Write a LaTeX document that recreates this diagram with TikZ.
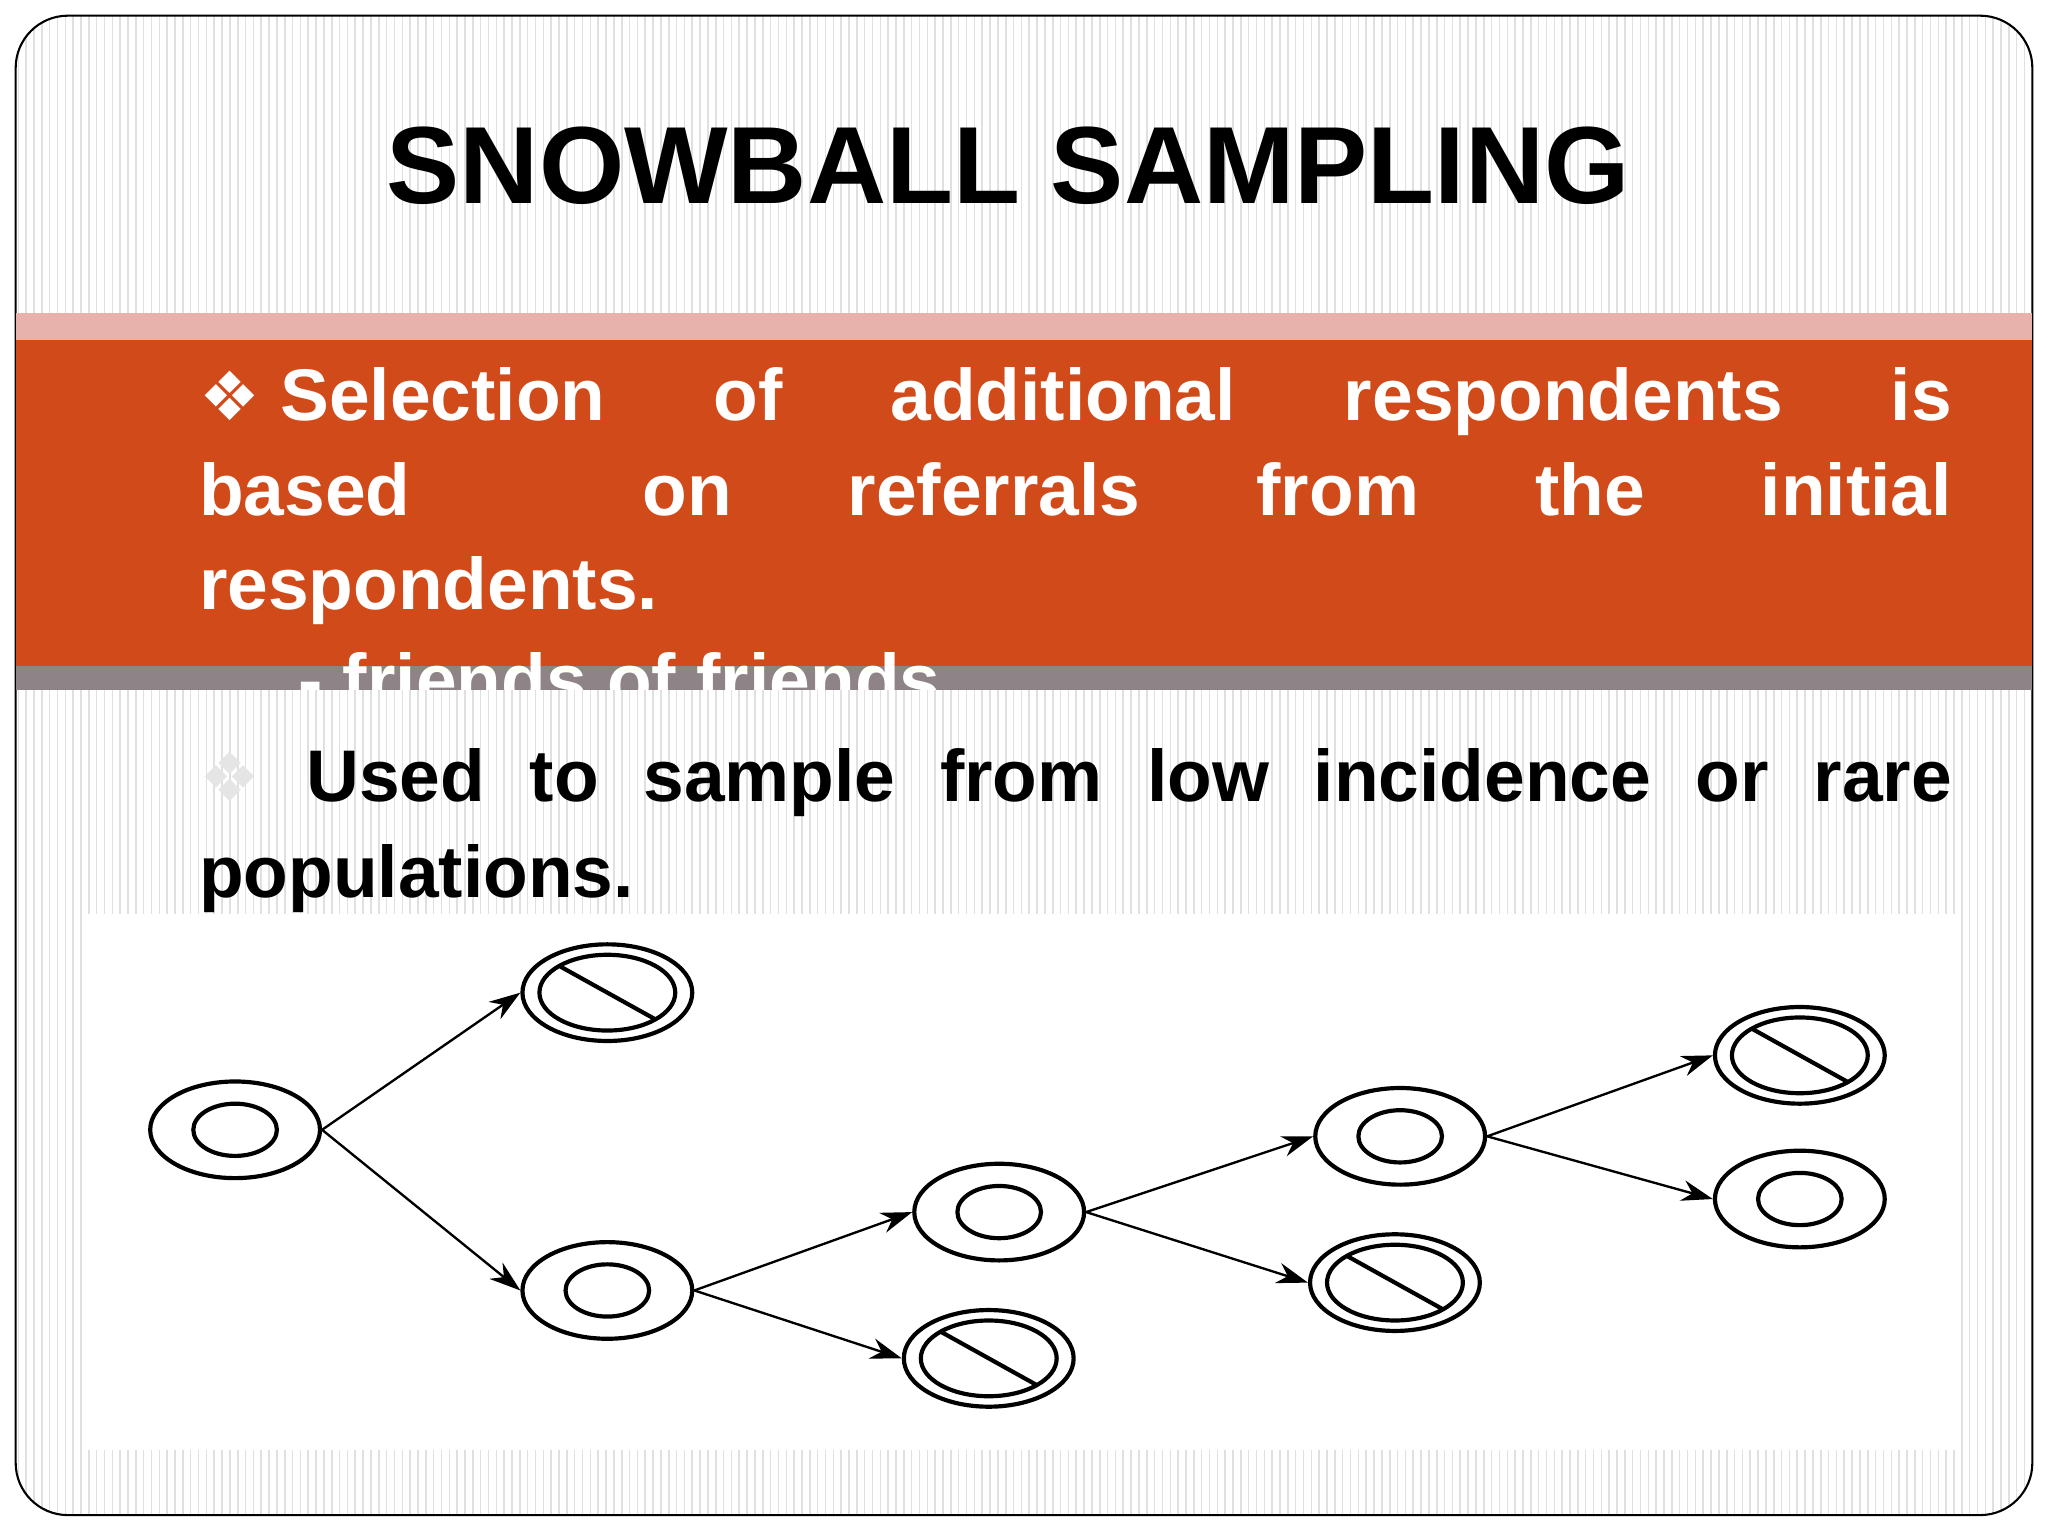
\documentclass[tikz,border=0pt]{standalone}
\usepackage{fontspec}
\setmainfont{Liberation Sans}
\newfontfamily\djv{DejaVu Sans}
\usetikzlibrary{arrows.meta,shapes.geometric,calc}
\definecolor{band}{HTML}{D14A1A}
\definecolor{pinkb}{HTML}{E8B2AC}
\definecolor{grayb}{HTML}{8E8487}
\newcommand{\jline}[1]{\hbox to 671pt{#1}}
\begin{document}
\begin{tikzpicture}[x=0.5pt,y=-0.5pt,
  outer/.style={draw,line width=1.6pt,ellipse,minimum width=65pt,minimum height=37pt},
  conn/.style={-{Stealth[length=12pt,width=8pt]},line width=0.9pt},
  wtxt/.style={anchor=base west,inner sep=0,text=white,font=\fontsize{28}{30}\selectfont\bfseries},
  btxt/.style={anchor=base west,inner sep=0,text=black,font=\fontsize{28}{30}\selectfont\bfseries}]
\useasboundingbox (0,0) rectangle (1568,1176);
\fill[white] (0,0) rectangle (1568,1176);
\begin{scope}
\clip[rounded corners=20pt] (12,12) rectangle (1556,1160);
\foreach \i in {14,20,...,1556} \draw[black!12,line width=0.6pt] (\i,12) -- (\i,1160);
\end{scope}
\draw[line width=0.8pt,rounded corners=20pt] (12,12) rectangle (1556,1160);
\node[inner sep=0,font=\fontsize{42}{44}\selectfont\bfseries] (title) at (772,127) {SNOWBALL SAMPLING};
\fill[pinkb] (12,240) rectangle (1556,260);
\fill[band] (12,260) rectangle (1556,510);
\fill[grayb] (12,510) rectangle (1556,528);
\node[wtxt] (l1) at (152,322) {\jline{{\djv\fontsize{26}{28}\selectfont ❖} Selection\hfill of\hfill additional\hfill respondents\hfill is}};
\node[wtxt] (l2) at (152,395) {\jline{based\hfill\hfill on\hfill referrals\hfill from\hfill the\hfill initial}};
\node[wtxt] (l3) at (152,467) {respondents.};
\begin{scope}
\clip (0,0) rectangle (1568,528);
\node[wtxt] (l4) at (228,540) {- friends of friends};
\end{scope}
\node[btxt] (l5) at (152,614) {\jline{{\djv\color{white!90!black}\fontsize{26}{28}\selectfont ❖}\hspace{10pt} Used\hfill to\hfill sample\hfill from\hfill low\hfill incidence\hfill or\hfill rare}};
\node[btxt] (l6) at (152,687) {populations.};
\fill[white] (65,700) rectangle (1500,1110);
\foreach \n/\x/\y/\c in {A/180/865/0,B/465/760/1,C/465/988/0,D/757/1040/1,E/765/928/0,F/1068/982/1,G/1072/870/0,H/1378/808/1,I/1378/918/0}{
  \node[outer] (\n) at (\x,\y) {};
  \ifnum\c=0
    \draw[line width=1.6pt] (\n.center) ellipse [x radius=32,y radius=20];
  \else
    \draw[line width=1.6pt] (\n.center) ellipse [x radius=52,y radius=29];
    \draw[line width=1.6pt] ($(\n.center)+(-36,-20)$) -- ($(\n.center)+(36,20)$);
  \fi
}
\draw[conn] (A.east) -- (B.west);
\draw[conn] (A.east) -- (C.west);
\draw[conn] (C.east) -- (E.west);
\draw[conn] (C.east) -- (D.west);
\draw[conn] (E.east) -- (G.west);
\draw[conn] (E.east) -- (F.west);
\draw[conn] (G.east) -- (H.west);
\draw[conn] (G.east) -- (I.west);
\end{tikzpicture}
\end{document}
